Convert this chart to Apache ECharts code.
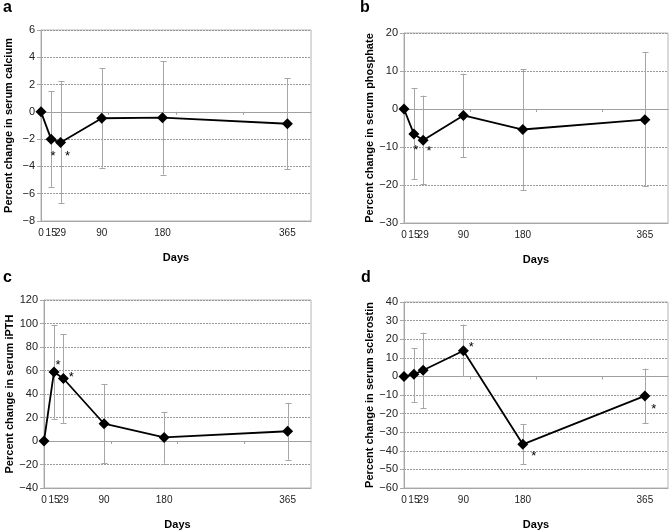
<!DOCTYPE html>
<html><head><meta charset="utf-8">
<script src="https://cdn.jsdelivr.net/npm/echarts@6/dist/echarts.min.js"></script>
<style>html,body{margin:0;padding:0;background:#fff}#c{width:669px;height:531px}</style>
</head><body><div id="c"></div>
<script>
// ---- data ----
const days = [0, 15, 29, 90, 180, 365];
const dayTickLabels = [0, 15, 29, 90, 180, 365];

const calciumMean = [0, -2.0, -2.25, -0.47, -0.43, -0.87];
const calciumLow  = [null, -5.5, -6.7, -4.1, -4.6, -4.2];
const calciumHigh = [null, 1.5, 2.25, 3.2, 3.7, 2.45];
const calciumSig  = [0, 1, 1, 0, 0, 0];

const phosphateMean = [0, -6.6, -8.2, -1.7, -5.4, -2.8];
const phosphateLow  = [null, -18.5, -19.8, -12.7, -21.4, -20.3];
const phosphateHigh = [null, 5.4, 3.5, 9.3, 10.4, 14.9];
const phosphateSig  = [0, 1, 1, 0, 0, 0];

const pthMean = [0, 58.8, 53.2, 14.7, 3.0, 8.3];
const pthLow  = [null, 19, 15.5, -19, -19.3, -16];
const pthHigh = [null, 98.8, 91, 48.3, 24.8, 32.5];
const pthSig  = [0, 1, 1, 0, 0, 0];

const sclMean = [0, 1.1, 3.3, 13.8, -36.5, -10.5];
const sclLow  = [null, -13.7, -17, 0, -47.2, -25.3];
const sclHigh = [null, 15.2, 23.5, 27.9, -25.8, 4.2];
const sclSig  = [0, 0, 0, 1, 1, 1];

// ---- layout / style ----
const FONT = 'Liberation Sans, Arial, sans-serif';
const panels = [
  { letter: 'a', title: 'Percent change in serum calcium', mean: calciumMean, low: calciumLow, high: calciumHigh, sig: calciumSig,
    yMin: -8, yMax: 6, yInt: 2, grid: { left: 41, top: 30, width: 270, height: 191 }, lp: [3, 8],
    star: { 1: [2, 17], 2: [7, 14] } },
  { letter: 'b', title: 'Percent change in serum phosphate', mean: phosphateMean, low: phosphateLow, high: phosphateHigh, sig: phosphateSig,
    yMin: -30, yMax: 20, yInt: 10, grid: { left: 404, top: 33, width: 264, height: 190 }, lp: [360, 8],
    star: { 1: [2, 16], 2: [6, 11] } },
  { letter: 'c', title: 'Percent change in serum iPTH', mean: pthMean, low: pthLow, high: pthHigh, sig: pthSig,
    yMin: -40, yMax: 120, yInt: 20, grid: { left: 44, top: 300, width: 267, height: 190 }, lp: [3, 278],
    star: { 1: [4, -6], 2: [8, -1] } },
  { letter: 'd', title: 'Percent change in serum sclerostin', mean: sclMean, low: sclLow, high: sclHigh, sig: sclSig,
    yMin: -60, yMax: 40, yInt: 10, grid: { left: 404, top: 302, width: 264, height: 190 }, lp: [361, 278],
    star: { 3: [8, -3], 4: [11, 12], 5: [9, 13] } }
];

const grids = [], xAxes = [], yAxes = [], series = [], graphics = [];
const minus = v => String(v).replace('-', '\u2212');

panels.forEach((p, i) => {
  grids.push(Object.assign({ show: true, borderColor: '#b4b4b4', borderWidth: 1, backgroundColor: '#fff' }, p.grid));
  // bottom axis with labels
  xAxes.push({
    type: 'value', gridIndex: i, min: 0, max: 400, position: 'bottom',
    name: 'Days', nameLocation: 'middle', nameGap: 31,
    nameTextStyle: { fontFamily: FONT, fontWeight: 'bold', fontSize: 11, color: '#000' },
    axisLine: { show: true, onZero: false, lineStyle: { color: '#a6a6a6' } },
    axisTick: { show: false },
    splitLine: { show: false },
    axisLabel: { customValues: dayTickLabels, fontFamily: FONT, fontSize: 10, color: '#222', margin: 7 }
  });
  // zero line axis
  xAxes.push({
    type: 'value', gridIndex: i, min: 0, max: 400, position: 'bottom',
    axisLine: { show: true, onZero: true, lineStyle: { color: '#a0a0a0' } },
    axisTick: { show: true, customValues: [100, 200, 300], length: 3, lineStyle: { color: '#a0a0a0' } },
    axisLabel: { show: false }, splitLine: { show: false }
  });
  yAxes.push({
    type: 'value', gridIndex: i, min: p.yMin, max: p.yMax, interval: p.yInt,
    name: p.title, nameLocation: 'middle', nameGap: 27,
    nameTextStyle: { fontFamily: FONT, fontWeight: 'bold', fontSize: 11, color: '#000' },
    axisLine: { show: true, lineStyle: { color: '#a6a6a6' } },
    axisTick: { show: true, length: 4, lineStyle: { color: '#a6a6a6' } },
    axisLabel: { formatter: minus, fontFamily: FONT, fontSize: 11, color: '#222', margin: 6 },
    splitLine: { show: true, lineStyle: { color: '#9a9a9a', type: [2, 1], width: 1 } }
  });
  const ebData = days.map((d, k) => [d, p.low[k], p.high[k]]).filter(r => r[1] != null);
  series.push({
    type: 'custom', xAxisIndex: i * 2, yAxisIndex: i, data: ebData, z: 3,
    encode: { x: 0, y: [1, 2] },
    renderItem: (params, api) => {
      const x = api.value(0), lo = api.value(1), hi = api.value(2);
      const a = api.coord([x, lo]), b = api.coord([x, hi]);
      const cx = Math.round(a[0]) + 0.5, w = 3;
      const st = { stroke: '#a6a6a6', lineWidth: 1 };
      return { type: 'group', children: [
        { type: 'line', shape: { x1: cx, y1: a[1], x2: cx, y2: b[1] }, style: st },
        { type: 'line', shape: { x1: cx - w, y1: Math.round(a[1]) + 0.5, x2: cx + w, y2: Math.round(a[1]) + 0.5 }, style: st },
        { type: 'line', shape: { x1: cx - w, y1: Math.round(b[1]) + 0.5, x2: cx + w, y2: Math.round(b[1]) + 0.5 }, style: st }
      ] };
    }
  });
  series.push({
    type: 'line', xAxisIndex: i * 2, yAxisIndex: i, z: 5,
    symbol: 'diamond', symbolSize: 11, showAllSymbol: true,
    lineStyle: { color: '#000', width: 1.8 }, itemStyle: { color: '#000' },
    label: { show: false, position: 'inside', formatter: '*', fontFamily: FONT, fontSize: 13, color: '#000' },
    emphasis: { disabled: true },
    data: days.map((d, k) => {
      const item = { value: [d, p.mean[k]] };
      if (p.sig[k]) item.label = { show: true, offset: p.star[k] || [6, 10] };
      return item;
    })
  });
  graphics.push({ type: 'text', style: { x: p.lp[0], y: p.lp[1], text: p.letter, verticalAlign: 'middle',
    font: 'bold 16px ' + FONT, fill: '#000' } });
});

const chart = echarts.init(document.getElementById('c'), null, { renderer: 'canvas' });
chart.setOption({
  animation: false,
  backgroundColor: '#fff',
  grid: grids, xAxis: xAxes, yAxis: yAxes, series: series, graphic: graphics
});
</script></body></html>
